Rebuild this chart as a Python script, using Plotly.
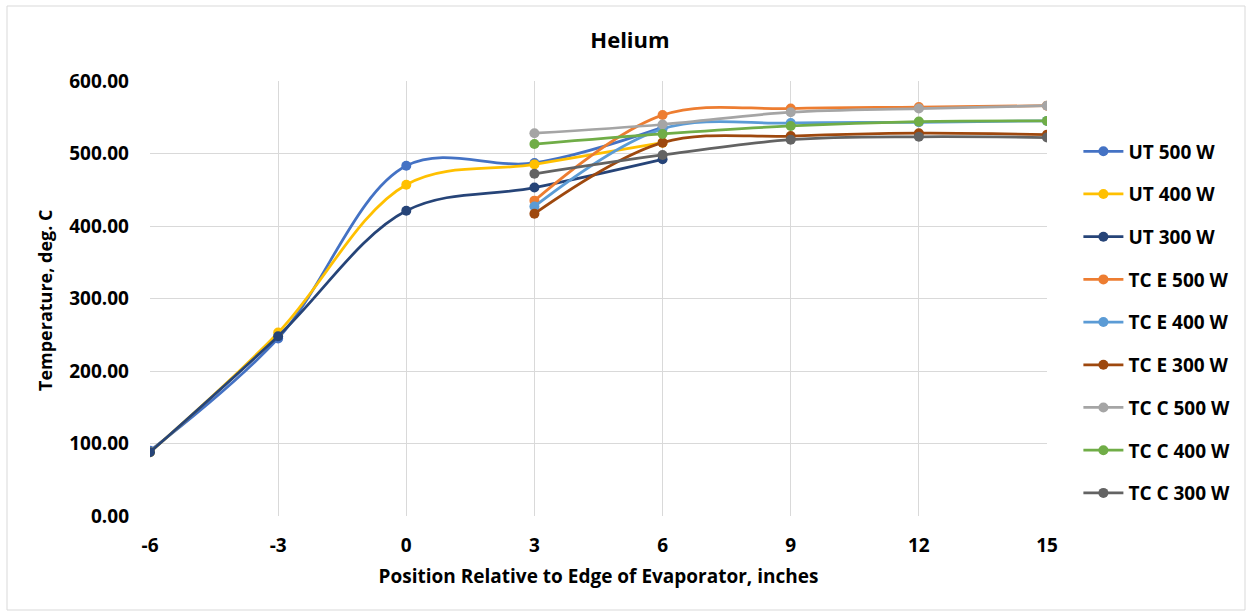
import plotly.graph_objects as go

x_ut = [-6, -3, 0, 3, 6]
x_tc = [3, 6, 9, 12, 15]

ut_500 = [90, 245, 483, 487, 536]
ut_400 = [88, 253, 457, 485, 515]
ut_300 = [88, 248, 421, 453, 492]
tce_500 = [435, 553, 562, 564, 566]
tce_400 = [427, 534, 542, 543, 545]
tce_300 = [417, 515, 524, 528, 526]
tcc_500 = [528, 540, 557, 562, 566]
tcc_400 = [513, 527, 538, 544, 545]
tcc_300 = [472, 498, 519, 523, 522]

series = [
    ("UT 500 W", x_ut, ut_500, "#4472C4"),
    ("UT 400 W", x_ut, ut_400, "#FFC000"),
    ("UT 300 W", x_ut, ut_300, "#264478"),
    ("TC E 500 W", x_tc, tce_500, "#ED7D31"),
    ("TC E 400 W", x_tc, tce_400, "#5B9BD5"),
    ("TC E 300 W", x_tc, tce_300, "#9E480E"),
    ("TC C 500 W", x_tc, tcc_500, "#A5A5A5"),
    ("TC C 400 W", x_tc, tcc_400, "#70AD47"),
    ("TC C 300 W", x_tc, tcc_300, "#636363"),
]

x_ticks = [-6, -3, 0, 3, 6, 9, 12, 15]

fig = go.Figure()
for i, (name, xs, ys, col) in enumerate(series):
    fig.add_trace(go.Scatter(
        x=xs, y=ys, name=name, mode="lines+markers",
        line=dict(color=col, width=2.75, shape="spline", smoothing=1.0),
        marker=dict(color=col, size=10),
        legendgroup=name,
    ))

font_family = "Open Sans, sans-serif"
bold19 = dict(family=font_family, size=19, color="#000000", weight="bold")

fig.update_layout(
    width=1250, height=613,
    paper_bgcolor="white", plot_bgcolor="white",
    margin=dict(l=150, r=203, t=81, b=97),
    title=dict(text="<b>Helium</b>", x=630/1250, xanchor="center", y=1-40/613, yanchor="middle",
               font=dict(family=font_family, size=22, color="#000000")),
    font=dict(family=font_family, color="#000000"),
    legend=dict(x=1.035, xanchor="left", y=0.445, yanchor="middle",
                font=bold19,
                tracegroupgap=15, itemwidth=40, bgcolor="rgba(0,0,0,0)"),
    showlegend=True,
)
fig.update_xaxes(
    range=[-6, 15], tickvals=x_ticks, ticktext=[str(v) for v in x_ticks],
    showgrid=True, gridcolor="#d9d9d9", gridwidth=1, zeroline=False,
    showline=False, ticks="", ticklabelstandoff=16,
    tickfont=bold19, automargin=False,
    title=dict(text="<b>Position Relative to Edge of Evaporator, inches</b>",
               font=dict(family=font_family, size=19, color="#000000"), standoff=12),
)
fig.update_yaxes(
    range=[0, 600], dtick=100, tickformat=".2f",
    showgrid=True, gridcolor="#d9d9d9", gridwidth=1, zeroline=False,
    showline=False, ticks="", ticklabelstandoff=20,
    tickfont=bold19, automargin=False,
)
fig.add_annotation(
    text="<b>Temperature, deg. C</b>", xref="paper", yref="paper",
    x=(45-150)/897, y=(516-300)/435, xanchor="center", yanchor="middle",
    textangle=-90, showarrow=False,
    font=dict(family=font_family, size=18, color="#000000"),
)
fig.add_shape(type="rect", xref="paper", yref="paper",
              x0=(7-150)/897, x1=(1245-150)/897, y0=-(610-516)/435, y1=1+(81-6)/435,
              line=dict(color="#d9d9d9", width=1), fillcolor="rgba(0,0,0,0)", layer="below")

fig.write_html("out.html")
